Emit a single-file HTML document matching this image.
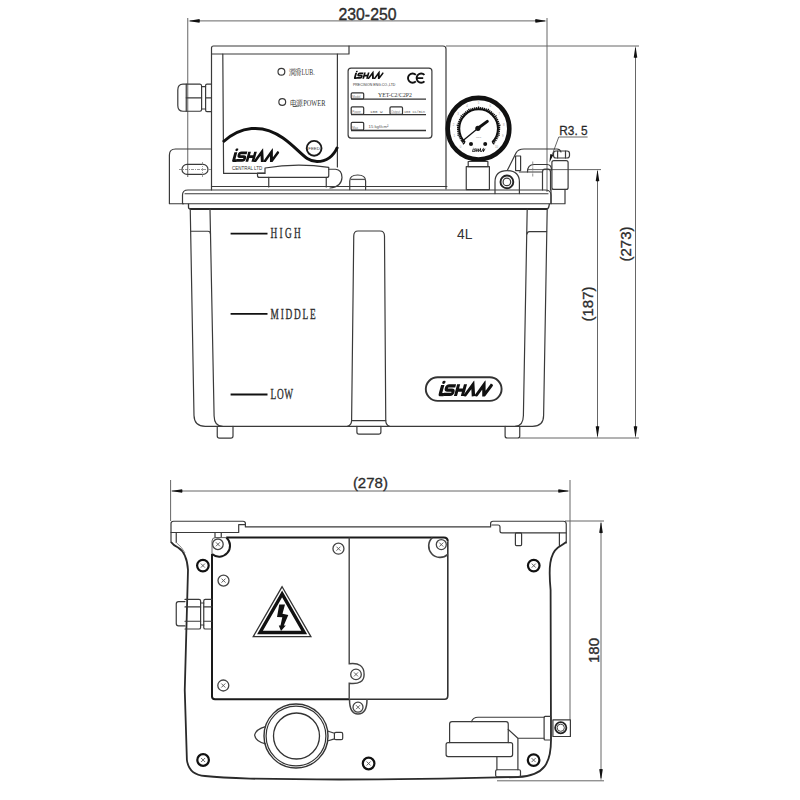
<!DOCTYPE html>
<html><head><meta charset="utf-8">
<style>
html,body{margin:0;padding:0;background:#fff;width:800px;height:800px;overflow:hidden}
svg{display:block}
.l{fill:none;stroke:#3a3a3a;stroke-width:1.2;stroke-linecap:round;stroke-linejoin:round}
.t{fill:none;stroke:#222;stroke-width:2;stroke-linejoin:round}
.d{fill:none;stroke:#666;stroke-width:1}
.txt{font-family:"Liberation Sans",sans-serif;fill:#333}
.srf{font-family:"Liberation Serif",serif;fill:#333}
</style></head><body>
<svg width="800" height="800" viewBox="0 0 800 800">
<defs>
<symbol id="logo" viewBox="0 -4 59 16.5" preserveAspectRatio="none">
 <g transform="translate(3.2,0) skewX(-16)" fill="none" stroke="#111" stroke-width="3.3" stroke-linejoin="miter" stroke-linecap="butt">
  <path d="M1.8,0.6 L1.8,10.2 Q1.8,10.8 3,10.8 L6,10.8" stroke-width="3.6"/>
  <circle cx="2.2" cy="-2.2" r="1.75" fill="#111" stroke="none"/>
  <path d="M16,1.5 L8.8,1.5 Q6.6,1.5 6.6,3.7 Q6.6,5.9 8.8,5.9 L12.8,5.9 Q15,5.9 15,8.2 Q15,10.4 12.8,10.4 L5.5,10.4"/>
  <path d="M18.8,0 L18.8,12 M26.2,0 L26.2,12 M18.8,6 L26.2,6"/>
  <path d="M28.4,12.6 L34.2,0.4 L38.4,12.6" stroke-width="3.5"/>
  <path d="M40.6,12.6 L46.2,0.4 L49.4,11.6 L55,0" stroke-width="3.5"/>
 </g>
</symbol>
</defs>
<!-- ============ TOP VIEW ============ -->
<g id="dims-top">
  <line class="d" x1="187.75" y1="18" x2="187.75" y2="177"/>
  <line class="d" x1="547" y1="18" x2="547" y2="192"/>
  <line class="d" x1="190" y1="20.9" x2="545" y2="20.9"/>
  <path d="M188,20.9 L199.50,19.10 Q200.30,20.90 199.50,22.70 Z" fill="#111"/>
  <path d="M547,20.9 L535.50,22.70 Q534.70,20.90 535.50,19.10 Z" fill="#111"/>
  <text class="txt" x="367.5" y="19.5" font-size="16.5" text-anchor="middle" textLength="58" lengthAdjust="spacingAndGlyphs" fill="#1a1a1a" stroke="#1a1a1a" stroke-width="0.35">230-250</text>
  <!-- 273 -->
  <line class="d" x1="446" y1="46" x2="639" y2="46"/>
  <line class="d" x1="519.75" y1="438" x2="639" y2="438"/>
  <line class="d" x1="635.5" y1="48" x2="635.5" y2="436"/>
  <path d="M635.5,46 L637.30,57.50 Q635.50,58.30 633.70,57.50 Z" fill="#111"/>
  <path d="M635.5,438 L633.70,426.50 Q635.50,425.70 637.30,426.50 Z" fill="#111"/>
  <text class="txt" font-size="15" text-anchor="middle" fill="#1a1a1a" stroke="#1a1a1a" stroke-width="0.3" transform="translate(631,244) rotate(-90)">(273)</text>
  <!-- 187 -->
  <line class="d" x1="528" y1="169.6" x2="601" y2="169.6"/>
  <line class="d" x1="597.5" y1="171" x2="597.5" y2="436"/>
  <path d="M597.5,169.6 L599.30,181.10 Q597.50,181.90 595.70,181.10 Z" fill="#111"/>
  <path d="M597.5,438 L595.70,426.50 Q597.50,425.70 599.30,426.50 Z" fill="#111"/>
  <text class="txt" font-size="15" text-anchor="middle" fill="#1a1a1a" stroke="#1a1a1a" stroke-width="0.3" transform="translate(593,304) rotate(-90)">(187)</text>
  <!-- R3.5 -->
  <text class="txt" x="559.3" y="135" font-size="13.7" textLength="28.3" lengthAdjust="spacingAndGlyphs" fill="#1a1a1a" stroke="#1a1a1a" stroke-width="0.3">R3. 5</text>
  <line class="d" x1="558.75" y1="137" x2="587.6" y2="137"/>
  <line class="d" x1="558.75" y1="137" x2="551" y2="158"/><path d="M549.4,162.5 L550.3,154 L553.3,155 Z" fill="#111"/>
</g>

<g id="top-body">
  <!-- lid top -->
  <path class="l" d="M211.5,190 L211.5,48 Q211.5,46 213.5,46 L443,46 Q446,46 446,49 L446,189"/>
  <path class="l" d="M211.5,54 L349,54 L349,46"/>
  <!-- left panel -->
  <path class="l" d="M222.8,54 L223.6,173.4 L265,173.4"/>
  <path class="l" d="M337.4,54 L337.4,167" stroke-width="1.7"/>
  <!-- cable gland -->
  <path class="l" d="M186.25,84.1 L183,84.1 Q177.8,84.1 177.8,90 L177.8,105.5 Q177.8,111.25 183,111.25 L186.25,111.25"/>
  <path class="l" d="M186.25,84.1 L200,84.1 Q201.6,84.1 201.6,86 L201.6,109.5 Q201.6,111.25 200,111.25 L186.25,111.25 Z"/>
  <line class="l" x1="186.25" y1="97.8" x2="201.6" y2="97.8" stroke-width="1.4"/>
  <path class="l" d="M201.6,86.6 L205.6,86.6 M201.6,109 L205.6,109"/>
  <path class="l" d="M211.5,84.1 L207,84.1 Q205.6,84.1 205.6,85.5 L205.6,110 Q205.6,111.6 207,111.6 L211.5,111.6"/>
  <line class="l" x1="205.6" y1="97.8" x2="211.5" y2="97.8" stroke-width="1.4"/>
  <!-- bracket -->
  <path class="l" d="M210.6,149 L175.5,149 Q169.4,149 169.4,155 L169.4,203.75 L183.5,203.75"/>
  <rect class="l" x="182" y="164.4" width="26" height="10" rx="5"/>
  <line x1="179" y1="169.5" x2="211" y2="169.5" stroke="#666" stroke-width="0.7" stroke-dasharray="3,1,1,1"/><line x1="202.5" y1="162" x2="202.5" y2="177.5" stroke="#777" stroke-width="0.7" stroke-dasharray="3,1,1,1"/>
  <!-- LEDs -->
  <circle class="l" cx="281.4" cy="71.8" r="3.4" stroke-width="1.6"/>
  <circle class="l" cx="282.25" cy="102" r="3.4" stroke-width="1.6"/>
  <text class="srf" x="288.8" y="74.5" font-size="7.5" textLength="26" lengthAdjust="spacingAndGlyphs" fill="#555">潤滑LUB.</text>
  <text class="srf" x="289.7" y="105.6" font-size="7.5" textLength="35.8" lengthAdjust="spacingAndGlyphs" fill="#555">电源POWER</text>
  <!-- swoosh -->
  <path d="M223,142 C240,126.5 262,123 283,138 C300,150 305,161.5 317,161.5 C328,161.5 334,155 337.5,147" fill="none" stroke="#111" stroke-width="3"/>
  <circle cx="314.1" cy="148.3" r="7.4" fill="none" stroke="#1a1a1a" stroke-width="1.9"/>
  <text class="txt" x="314.1" y="150" font-size="4.3" text-anchor="middle" fill="#222">FEED</text>
  <!-- logo -->
  <use href="#logo" x="232" y="148.3" width="47.2" height="13.8"/>
  <text class="txt" x="232" y="170" font-size="4.5">CENTRAL LTD</text>
  <!-- connector -->
  <path class="l" d="M265,173 L265,168 Q297,162.5 328.75,167.4 L328.75,175.4 Q328.75,177.4 326.75,177.4 L259.5,177.4 Q257.5,177.4 257.5,175.4 L257.5,173 Z" stroke-width="1.4"/>
  <path class="l" d="M268.75,177.4 L268.75,187 M326.25,177.4 L326.25,187" stroke-width="1.3"/>
  <path class="l" d="M328.75,169.25 L335.5,169.25 Q342,170 342,177.5 Q341.5,187 330,188" stroke-width="1.5"/>
  <!-- small dome -->
  <path class="l" d="M349.75,189.6 L349.75,181 Q349.75,175 357.7,175 Q365.6,175 365.6,181 L365.6,189.6" stroke-width="1.4"/><line x1="350.5" y1="179.4" x2="365" y2="179.4" stroke="#555" stroke-width="1.3"/>
  <!-- plate -->
  <rect class="l" x="348.1" y="68.1" width="83.8" height="70" rx="3" stroke-width="1.5"/>
  <use href="#logo" x="353.75" y="70.5" width="30" height="8.5"/>
  <path d="M415.85,74.85 A4.6,4.6 0 1 0 415.85,81.35 M424.45,74.85 A4.6,4.6 0 1 0 424.45,81.35 M417.3,78.1 L423.2,78.1" fill="none" stroke="#111" stroke-width="1.9"/>
  <text class="txt" x="353" y="86" font-size="3.5">PRECISION ENG.CO.,LTD</text>
  <rect x="351.2" y="92.8" width="12.5" height="6.2" rx="1.2" fill="none" stroke="#333" stroke-width="1.2"/>
  <text x="352.3" y="97.6" font-size="3" fill="#777" font-family="Liberation Sans">Model</text>
  <line x1="351" y1="99.2" x2="426" y2="99.2" stroke="#333" stroke-width="1.3"/>
  <text class="srf" x="378" y="97.3" font-size="6.2" textLength="34" lengthAdjust="spacingAndGlyphs" fill="#555">YET-C2/C2P2</text>
  <rect x="351.2" y="106.9" width="12.5" height="7.5" rx="1.2" fill="none" stroke="#333" stroke-width="1.2"/>
  <text x="352.3" y="112.8" font-size="3" fill="#777" font-family="Liberation Sans">Power</text>
  <rect x="390" y="106.9" width="12.5" height="7.5" rx="1.2" fill="none" stroke="#333" stroke-width="1.2"/>
  <text x="391" y="112.8" font-size="3" fill="#777" font-family="Liberation Sans">Output</text>
  <line x1="351" y1="114.6" x2="426" y2="114.6" stroke="#333" stroke-width="1.3"/>
  <text x="370" y="112.6" font-size="4.2" fill="#555" font-family="Liberation Mono">100 W</text>
  <text x="404" y="112.6" font-size="4" textLength="21" lengthAdjust="spacingAndGlyphs" fill="#555" font-family="Liberation Mono">100 cc/min</text>
  <rect x="351.2" y="122.4" width="12.5" height="7.8" rx="1.2" fill="none" stroke="#333" stroke-width="1.2"/>
  <text x="352.3" y="128.8" font-size="3" fill="#777" font-family="Liberation Sans">Max</text>
  <line x1="351" y1="130.5" x2="426" y2="130.5" stroke="#333" stroke-width="1.3"/>
  <text x="368.5" y="127.8" font-size="4" textLength="20" lengthAdjust="spacingAndGlyphs" fill="#555" font-family="Liberation Sans">15 kgf/cm²</text>
  <!-- gauge -->
  <circle cx="478.5" cy="128.7" r="30.8" fill="none" stroke="#111" stroke-width="4.6"/>
  <path d="M464.95,142.25 A19.3,19.3 0 1 1 492.25,142.25" fill="none" stroke="#111" stroke-width="1.9"/>
  <path d="M464.95,142.25L462.90,144.30M463.73,140.90L461.96,142.37M462.64,139.45L460.74,140.74M461.69,137.90L459.67,139.01M460.89,136.26L458.78,137.18M460.24,134.56L457.49,135.46M459.76,132.81L457.52,133.31M459.45,131.02L457.17,131.31M459.31,129.21L457.01,129.28M459.34,127.39L457.04,127.24M459.54,125.58L456.67,125.13M459.91,123.80L457.68,123.23M460.44,122.06L458.28,121.28M461.14,120.38L459.06,119.40M461.99,118.78L460.01,117.60M462.99,117.26L460.64,115.55M464.12,115.84L462.40,114.32M465.39,114.53L463.81,112.85M466.77,113.35L465.36,111.53M468.26,112.30L467.03,110.36M469.84,111.40L468.52,108.82M471.50,110.66L470.65,108.52M473.22,110.07L472.57,107.86M474.98,109.64L474.55,107.38M476.78,109.39L476.57,107.10M478.60,109.30L478.60,106.40M480.42,109.39L480.63,107.10M482.22,109.64L482.65,107.38M483.98,110.07L484.63,107.86M485.70,110.66L486.55,108.52M487.36,111.40L488.68,108.82M488.94,112.30L490.17,110.36M490.43,113.35L491.84,111.53M491.81,114.53L493.39,112.85M493.08,115.84L494.80,114.32M494.21,117.26L496.56,115.55M495.21,118.78L497.19,117.60M496.06,120.38L498.14,119.40M496.76,122.06L498.92,121.28M497.29,123.80L499.52,123.23M497.66,125.58L500.53,125.13M497.86,127.39L500.16,127.24M497.89,129.21L500.19,129.28M497.75,131.02L500.03,131.31M497.44,132.81L499.68,133.31M496.96,134.56L499.71,135.46M496.31,136.26L498.42,137.18M495.51,137.90L497.53,139.01M494.56,139.45L496.46,140.74M493.47,140.90L495.24,142.37M492.25,142.25L494.30,144.30" fill="none" stroke="#111" stroke-width="1.35"/>
  <text x="460.57" y="147.63" font-size="2.8" text-anchor="middle" fill="#999" font-family="Liberation Sans">0</text><text x="454.35" y="137.48" font-size="2.8" text-anchor="middle" fill="#999" font-family="Liberation Sans">1</text><text x="453.41" y="125.61" font-size="2.8" text-anchor="middle" fill="#999" font-family="Liberation Sans">2</text><text x="457.97" y="114.61" font-size="2.8" text-anchor="middle" fill="#999" font-family="Liberation Sans">3</text><text x="467.02" y="106.88" font-size="2.8" text-anchor="middle" fill="#999" font-family="Liberation Sans">4</text><text x="478.60" y="104.10" font-size="2.8" text-anchor="middle" fill="#999" font-family="Liberation Sans">5</text><text x="490.18" y="106.88" font-size="2.8" text-anchor="middle" fill="#999" font-family="Liberation Sans">6</text><text x="499.23" y="114.61" font-size="2.8" text-anchor="middle" fill="#999" font-family="Liberation Sans">7</text><text x="503.79" y="125.61" font-size="2.8" text-anchor="middle" fill="#999" font-family="Liberation Sans">8</text><text x="502.85" y="137.48" font-size="2.8" text-anchor="middle" fill="#999" font-family="Liberation Sans">9</text><text x="496.63" y="147.63" font-size="2.8" text-anchor="middle" fill="#999" font-family="Liberation Sans">10</text>
  <line x1="461.6" y1="141.7" x2="478" y2="128.3" stroke="#111" stroke-width="1.3"/>
  <line x1="478" y1="128.3" x2="487.3" y2="121.4" stroke="#111" stroke-width="3" stroke-linecap="round"/>
  <circle cx="477.9" cy="128.3" r="2.6" fill="#111"/>
  <circle cx="471" cy="143.9" r="2" fill="#111"/>
  <circle cx="485.2" cy="143.9" r="2" fill="#111"/>
  <text x="478.5" y="137.5" font-size="2.5" text-anchor="middle" fill="#888" font-family="Liberation Sans">MPa</text>
  <use href="#logo" x="472.1" y="147.5" width="13.4" height="4.4"/>
  <rect class="l" x="468.2" y="161.5" width="19.7" height="5.2"/>
  <rect class="l" x="466.25" y="166.7" width="23.15" height="22.9"/>
  <!-- right fitting -->
  <path class="l" d="M495,193.6 L495,182 Q495,170.6 507.1,170.6 Q519.4,170.6 519.4,182 L519.4,193.6"/>
  <circle cx="506.9" cy="181.9" r="6.4" fill="none" stroke="#222" stroke-width="1.9"/>
  <circle class="l" cx="506.9" cy="181.9" r="3.8"/>
  <path class="l" d="M507.5,170 L516,153 Q518,149 524,149 L557,149 Q560,149 561,152"/>
  <rect class="l" x="515.6" y="156" width="5" height="14.6"/>
  <path class="l" d="M519.4,172 L542.5,172"/><path class="l" d="M527.5,172 Q527.5,164.5 534,164.5 L547,164.5 Q551.5,164.5 551.5,170" stroke-width="1.3"/><line x1="532.75" y1="161.5" x2="532.75" y2="177" stroke="#777" stroke-width="0.8" stroke-dasharray="3,1,1,1"/>
  <path class="l" d="M542.5,190 L542.5,172 Q542.5,169.2 545,169.2 L548,169.2 Q550.5,169.2 550.5,172 L550.5,190"/>
  <rect class="l" x="551.9" y="160.6" width="16.2" height="28.8" rx="2"/>
  <rect class="l" x="553.5" y="151" width="16" height="7" rx="2.5" stroke-width="1.4"/><path class="l" d="M557.6,151 L557.6,158 M565.5,151 L565.5,158"/>
  <path class="l" d="M551,189.4 L551,203.75 L565,203.75 L565,189.4"/>
  <path class="l" d="M211.5,186.5 L446.9,186.5"/>
  <!-- tank lid -->
  <path class="l" d="M182.5,203.75 L182.5,195 Q182.5,190 188,190 L545,190 Q551,190 551,195 L551,203.75 Z"/>
  <line class="l" x1="185" y1="193.75" x2="548" y2="193.75"/>
  <path d="M188.5,203.75 L188.5,207.3 Q188.5,209.1 190.5,209.1 L546,209.1 Q548.3,209.1 548.8,207 L549.4,203.75" fill="none" stroke="#333" stroke-width="1.3"/><line x1="190" y1="209.1" x2="547" y2="209.1" stroke="#2a2a2a" stroke-width="2"/>
  <!-- tank body -->
  <path class="l" d="M190.25,209 L194,415.5 Q194.2,426.3 205.25,426.3 L532.5,426.3 Q543.6,426.3 543.6,415.5 L547.2,209"/>
  <path class="l" d="M210,209 L214.1,416 Q214.3,426.3 222.5,426.3"/>
  <path class="l" d="M527.2,209 L523.4,415.5 Q523.2,426.3 515.25,426.3"/>
  <path class="l" d="M190.7,231.25 L208,231.25 Q210.4,231.25 210.5,234"/>
  <path class="l" d="M527,234 Q527.2,231.6 529.5,231.6 L546.6,231.6"/>
  <!-- sight glass -->
  <path class="l" d="M347.5,426.25 Q351.6,425 351.6,420.25 L353.75,236 Q353.75,231 358,231 L380,231 Q384.5,231 384.5,236 L385.75,420.25 Q385.75,425 389.5,426.25"/>
  <line class="l" x1="351.6" y1="420.6" x2="385.75" y2="420.6" stroke-width="1.5"/>
  <!-- feet -->
  <path class="l" d="M217.25,426.3 L217.25,436 Q217.25,438.2 219.5,438.2 L230.8,438.2 Q233,438.2 233,436 L233,426.3"/>
  <path class="l" d="M356.9,426.3 L356.9,432 Q356.9,434.1 359,434.1 L378.8,434.1 Q380.9,434.1 380.9,432 L380.9,426.3"/>
  <path class="l" d="M505.1,426.3 L505.1,436 Q505.1,438 507.3,438 L517.6,438 Q519.75,438 519.75,436 L519.75,426.3"/>
  <!-- level marks -->
  <line x1="230.6" y1="233.6" x2="267.5" y2="233.6" stroke="#111" stroke-width="1.9"/>
  <line x1="230.6" y1="313.9" x2="267.5" y2="313.9" stroke="#111" stroke-width="1.9"/>
  <line x1="230.6" y1="394.5" x2="267.5" y2="394.5" stroke="#111" stroke-width="1.9"/>
  <text class="srf" transform="translate(270.6,238.4) scale(0.62,1)" font-size="15" textLength="48.4" lengthAdjust="spacing" fill="#222" stroke="#222" stroke-width="0.35">HIGH</text>
  <text class="srf" transform="translate(270.6,318.9) scale(0.62,1)" font-size="15" textLength="72.6" lengthAdjust="spacing" fill="#222" stroke="#222" stroke-width="0.35">MIDDLE</text>
  <text class="srf" transform="translate(270.6,399.3) scale(0.62,1)" font-size="15" textLength="36.3" lengthAdjust="spacing" fill="#222" stroke="#222" stroke-width="0.35">LOW</text>
  <text class="txt" x="457.1" y="238.5" font-size="15" textLength="15.4" lengthAdjust="spacingAndGlyphs" fill="#1a1a1a">4L</text>
  <!-- oval logo -->
  <rect x="425.8" y="377.3" width="75.8" height="23.6" rx="11.8" fill="none" stroke="#333" stroke-width="1.9"/>
  <use href="#logo" x="438.3" y="380.5" width="54.6" height="15.9"/>
</g>

<!-- ============ BOTTOM VIEW ============ -->
<g id="dims-bottom">
  <line class="d" x1="170.6" y1="480" x2="170.6" y2="521"/>
  <line class="d" x1="570" y1="480" x2="570" y2="720"/>
  <line class="d" x1="172" y1="491" x2="568" y2="491"/>
  <path d="M170.6,491 L182.10,489.20 Q182.90,491.00 182.10,492.80 Z" fill="#111"/>
  <path d="M570,491 L558.50,492.80 Q557.70,491.00 558.50,489.20 Z" fill="#111"/>
  <text class="txt" x="370.4" y="488.3" font-size="15" text-anchor="middle" fill="#1a1a1a" stroke="#1a1a1a" stroke-width="0.3">(278)</text>
  <line class="d" x1="565" y1="521" x2="604" y2="521"/>
  <line class="d" x1="497" y1="780.8" x2="604" y2="780.8"/>
  <line class="d" x1="601" y1="523" x2="601" y2="778"/>
  <path d="M601,521.25 L602.80,532.75 Q601.00,533.55 599.20,532.75 Z" fill="#111"/>
  <path d="M601,780.8 L599.20,769.30 Q601.00,768.50 602.80,769.30 Z" fill="#111"/>
  <text class="txt" font-size="15" text-anchor="middle" fill="#1a1a1a" stroke="#1a1a1a" stroke-width="0.3" transform="translate(599,650.5) rotate(-90)">180</text>
</g>
<g id="bottom-body">
  <!-- top flange -->
  <path class="l" d="M171,542 L171,523.5 Q171,521.25 173.5,521.25 L243,521.25 Q245.4,521.25 245.4,523.5 L245.4,526.9 L490.6,526.9 L490.6,523.5 Q490.6,521.25 493,521.25 L563.5,521.25 Q566.25,521.25 566.25,524 L566.25,543" stroke-width="1.4"/>
  <path class="l" d="M171,532.5 L238.7,532.5 L238.7,524.6 L245.4,524.6" stroke-width="1.4"/>
  <path class="l" d="M176.25,532.5 L176.25,542.5"/>
  <path class="l" d="M491.9,525 L498,525 Q500,525 500,527 L500,531 Q500,532.9 502,532.9 L566,532.9" stroke-width="1.4"/>
  <rect class="l" x="215" y="532.5" width="6.25" height="5"/>
  <rect class="l" x="515.4" y="532.9" width="6.2" height="12.7" rx="1"/>
  <path class="l" d="M559.4,532.9 L559.4,545.6"/>
  <!-- left profile -->
  <path d="M171,542 Q173,545 178,547.5 Q187,553 188,570 L184.75,690 L186.9,760 Q189,775 205,776 Q220,777.5 250,778.6 Q360,781 518,777 C545,776 551,762 551,740 L550.6,590 C548.5,568 549.5,554 558,547.5 Q563,544.5 566.25,542" fill="none" stroke="#2a2a2a" stroke-width="1.8" stroke-linejoin="round"/>
  <path d="M176.25,542.5 Q182,547 185,553" fill="none" stroke="#888" stroke-width="1"/>
  <!-- left cover -->
  <path d="M212,554 L212,696.5 Q212,699.2 215,699.2 L349.2,699.2" fill="none" stroke="#1a1a1a" stroke-width="2"/>
  <path d="M226.3,537.6 L443.75,537.6 Q447.8,537.6 447.8,541.6" fill="none" stroke="#1a1a1a" stroke-width="2"/>
  <path d="M212,554 A10.5,10.5 0 0 0 226.3,537.6" fill="none" stroke="#1a1a1a" stroke-width="2"/>
  <path d="M212,554 L212,541 Q212,537.6 215.5,537.6 L226.3,537.6" fill="none" stroke="#666" stroke-width="1"/>
  <path d="M349.2,537.6 L349.2,663.8 Q364.1,662 364.1,674.4 Q364.1,685 349.2,683.3 L349.2,698.75" fill="none" stroke="#444" stroke-width="1.4"/>
  <!-- right cover -->
  <path d="M447.8,541.6 L447.8,695.5 Q447.8,699.2 444.6,699.2 L349.2,699.2" fill="none" stroke="#333" stroke-width="1.6"/>
  <path d="M432.4,537.6 A10,10 0 0 0 447.8,554.4" fill="none" stroke="#444" stroke-width="1.6"/>
  <path d="M349.5,699.2 Q349.5,714 358,714 Q367,714 367,699.2" fill="none" stroke="#444" stroke-width="1.5"/>
  <!-- screws thin -->
  <g fill="none" stroke="#444" stroke-width="1.3">
    <circle cx="217.9" cy="544.3" r="5.3"/>
    <circle cx="223.5" cy="580.6" r="5.5"/>
    <circle cx="338.45" cy="548.7" r="5.5"/>
    <circle cx="441.3" cy="544.6" r="5"/>
    <circle cx="223.3" cy="685.5" r="5.5"/>
    <circle cx="356" cy="674.4" r="5.3"/>
    <circle cx="358" cy="707.2" r="5"/>
  </g>
  <g fill="none" stroke="#111" stroke-width="2.2">
    <circle cx="202.9" cy="565.6" r="5.8"/>
    <circle cx="533.75" cy="565.6" r="5.8"/>
    <circle cx="203.1" cy="760" r="5.8"/>
    <circle cx="368.6" cy="763.5" r="5.8"/>
    <circle cx="533.6" cy="760.1" r="5.8"/>
  </g>
  <g stroke="#555" stroke-width="0.9">
    <path d="M215.9,542.3 l4,4 m0,-4 l-4,4"/>
    <path d="M221.5,578.6 l4,4 m0,-4 l-4,4"/>
    <path d="M336.45,546.7 l4,4 m0,-4 l-4,4"/>
    <path d="M439.3,542.6 l4,4 m0,-4 l-4,4"/>
    <path d="M221.3,683.5 l4,4 m0,-4 l-4,4"/>
    <path d="M354,672.4 l4,4 m0,-4 l-4,4"/>
    <path d="M356,705.2 l4,4 m0,-4 l-4,4"/>
    <path d="M200.9,563.6 l4,4 m0,-4 l-4,4"/>
    <path d="M531.75,563.6 l4,4 m0,-4 l-4,4"/>
    <path d="M201.1,758 l4,4 m0,-4 l-4,4"/>
    <path d="M366.6,761.5 l4,4 m0,-4 l-4,4"/>
    <path d="M531.6,758.1 l4,4 m0,-4 l-4,4"/>
  </g>
  <!-- warning triangle -->
  <path d="M282.1,586.7 L253.25,636.6 L310.9,636.6 Z" fill="none" stroke="#333" stroke-width="1.3"/>
  <path d="M282.1,594 L260,632.5 L304.2,632.5 Z" fill="none" stroke="#111" stroke-width="3.4" stroke-linejoin="miter"/>
  <path d="M279.25,604.5 L285,604.5 L282.5,613.8 L288.3,615 L283.8,625.5 L285.8,625.5 L281,631 L278.8,625.5 L280.5,625.5 L282.3,617.3 L277,617 Z" fill="#111"/>
  <!-- cable gland bottom view -->
  <path class="l" d="M185,601.6 L178.5,601.6 Q176.25,601.6 176.25,604 L176.25,623.5 Q176.25,625.9 178.5,625.9 L185,625.9"/>
  <path class="l" d="M185,599.4 L199,599.4 Q200.6,599.4 200.6,601 L200.6,627.4 Q200.6,629 199,629 L185,629"/>
  <line class="l" x1="185" y1="606.9" x2="200.6" y2="606.9"/>
  <line class="l" x1="185" y1="621.25" x2="200.6" y2="621.25"/>
  <path class="l" d="M200.6,603 L203.75,603 M200.6,625 L203.75,625"/>
  <path class="l" d="M211.9,599.4 L205.3,599.4 Q203.75,599.4 203.75,601 L203.75,627.4 Q203.75,629 205.3,629 L211.9,629"/>
  <line class="l" x1="203.75" y1="606.9" x2="211.9" y2="606.9"/>
  <line class="l" x1="203.75" y1="621.25" x2="211.9" y2="621.25"/>
  <!-- filler cap -->
  <circle cx="296" cy="736" r="32" fill="none" stroke="#333" stroke-width="1.4"/>
  <circle cx="296" cy="736" r="29.9" fill="none" stroke="#333" stroke-width="1.2"/>
  <circle cx="296.5" cy="736" r="23" fill="none" stroke="#333" stroke-width="1.3"/>
  <path class="l" d="M265.5,726.6 Q256,729 254.6,735.2 Q256,742 265.5,743.8"/>
  <path class="l" d="M327.5,731 L334.4,733.2 M327.5,741 L334.4,738.9"/>
  <rect class="l" x="334.4" y="732.4" width="8.3" height="7.3" rx="1.5"/>
  <!-- pump block -->
  <path class="l" d="M449.6,742.6 L449.6,724 Q449.6,721.6 452,721.6 L506,721.6 Q508.25,721.6 508.25,724 L508.25,742.6" stroke-width="1.4"/>
  <rect class="l" x="446.1" y="742.6" width="66.5" height="14" rx="2" stroke-width="1.4"/>
  <path class="l" d="M471.5,721.6 Q473,717.25 478,717.25 L544.1,717.25" stroke-width="1.3"/>
  <path class="l" d="M508.25,729.5 L517.9,738.25 L544.1,738.25 M517.9,738.25 L517.9,769.75 M496.9,756.6 L496.9,769.75" stroke-width="1.3"/>
  <rect class="l" x="495.65" y="769.75" width="24.85" height="7" rx="1.5" stroke-width="1.3"/>
  <rect class="l" x="544.1" y="716.4" width="7" height="23.6" rx="1" stroke-width="1.3"/>
  <rect class="l" x="552.9" y="719.9" width="17.5" height="16.6" stroke-width="1.2"/>
  <circle cx="560.75" cy="727.75" r="5.6" fill="none" stroke="#222" stroke-width="1.8"/>
  <circle cx="560.75" cy="727.75" r="3.6" fill="none" stroke="#444" stroke-width="1"/>
</g>
</svg>
</body></html>
